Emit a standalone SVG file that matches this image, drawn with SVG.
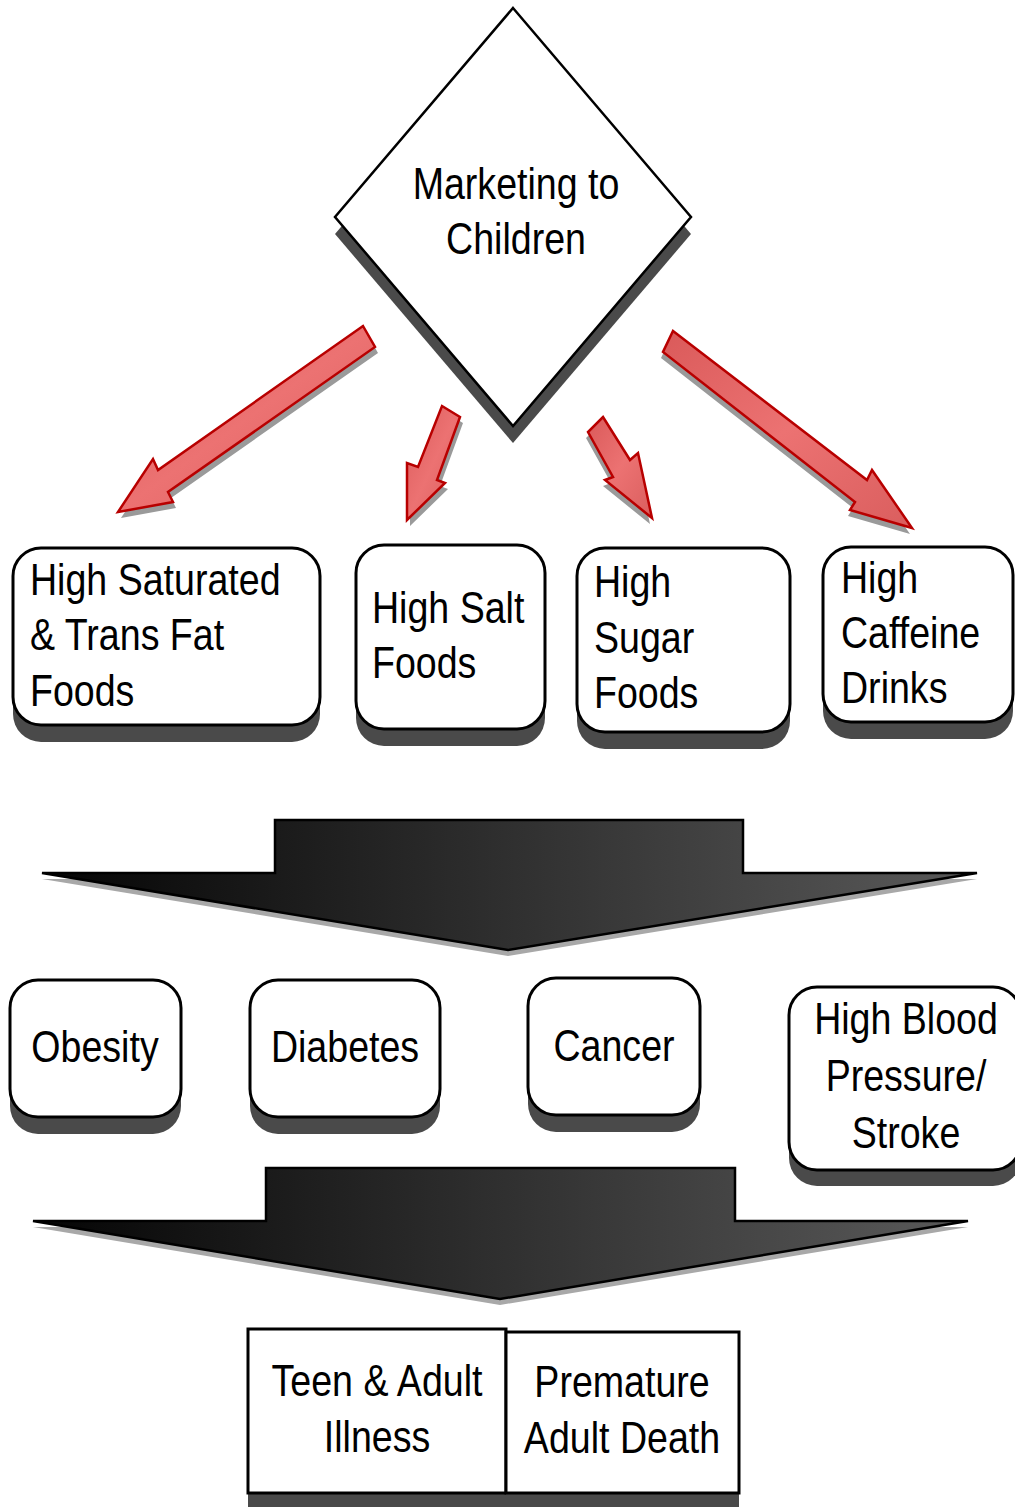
<svg xmlns="http://www.w3.org/2000/svg" width="1015" height="1507" viewBox="0 0 1015 1507">
<defs>
<style>
.t{font-family:"Liberation Sans",Arial,sans-serif;font-size:45px;fill:#000}
.m{text-anchor:middle}
.box{fill:#fff;stroke:#000;stroke-width:3}
.sh{fill:#4a4a4a}
.ra{fill:url(#redg);stroke:#b80000;stroke-width:2.5;stroke-linejoin:miter}
.rs{fill:#9a9a9a}
.ba{fill:url(#blkg);stroke:#000;stroke-width:2.5;stroke-linejoin:miter}
.bs{fill:#a8a8a8}
</style>
<linearGradient id="redg" x1="0" y1="0" x2="1" y2="1">
<stop offset="0" stop-color="#da5a5a"/>
<stop offset="0.5" stop-color="#ec7272"/>
<stop offset="1" stop-color="#da5e5e"/>
</linearGradient>
<linearGradient id="blkg" x1="0" y1="0" x2="1" y2="0">
<stop offset="0" stop-color="#050505"/>
<stop offset="1" stop-color="#5a5a5a"/>
</linearGradient>
</defs>
<rect width="1015" height="1507" fill="#fff"/>

<g id="connectors">
<g id="arrow-satfat">
<polygon class="rs" transform="translate(3 6)" points="363,326 375,347 168,492 173,502 118,512 153,459 158,470"/>
<polygon class="ra" points="363,326 375,347 168,492 173,502 118,512 153,459 158,470"/>
</g>
<g id="arrow-salt">
<polygon class="rs" transform="translate(3 6)" points="442,406 460,417 437,480 445,483 407,520 407,463 418,467"/>
<polygon class="ra" points="442,406 460,417 437,480 445,483 407,520 407,463 418,467"/>
</g>
<g id="arrow-sugar">
<polygon class="rs" transform="translate(-2 6)" points="603,417 630,460 638,453 652,518 605,480 613,477 588,432"/>
<polygon class="ra" points="603,417 630,460 638,453 652,518 605,480 613,477 588,432"/>
</g>
<g id="arrow-caffeine">
<polygon class="rs" transform="translate(-2 6)" points="673,331 867,480 872,470 912,528 850,510 855,502 663,352"/>
<polygon class="ra" points="673,331 867,480 872,470 912,528 850,510 855,502 663,352"/>
</g>
<g id="bigarrow-1">
<polygon class="bs" transform="translate(0 6)" points="42,873 275,873 275,820 743,820 743,873 977,873 508,950"/>
<polygon class="ba" points="42,873 275,873 275,820 743,820 743,873 977,873 508,950"/>
</g>
<g id="bigarrow-2">
<polygon class="bs" transform="translate(0 6)" points="33,1221 266,1221 266,1168 735,1168 735,1221 968,1221 500,1299"/>
<polygon class="ba" points="33,1221 266,1221 266,1168 735,1168 735,1221 968,1221 500,1299"/>
</g>
</g>

<g id="node-marketing">
<polygon class="sh" points="513,25 691,234 513,443 335,234"/>
<polygon fill="#fff" stroke="#000" stroke-width="2.5" points="513,8 691,217 513,426 335,217"/>
<text class="t m" transform="translate(516 199) scale(0.835 1)">Marketing to</text>
<text class="t m" transform="translate(516 254) scale(0.835 1)">Children</text>
</g>

<g id="node-satfat">
<rect class="sh" x="13" y="565" width="307" height="177" rx="28"/>
<rect class="box" x="13" y="548" width="307" height="177" rx="28"/>
<text class="t" transform="translate(30 595) scale(0.835 1)">High Saturated</text>
<text class="t" transform="translate(30 650) scale(0.835 1)">&amp; Trans Fat</text>
<text class="t" transform="translate(30 706) scale(0.835 1)">Foods</text>
</g>

<g id="node-salt">
<rect class="sh" x="356" y="562" width="189" height="184" rx="28"/>
<rect class="box" x="356" y="545" width="189" height="184" rx="28"/>
<text class="t" transform="translate(372 623) scale(0.835 1)">High Salt</text>
<text class="t" transform="translate(372 678) scale(0.835 1)">Foods</text>
</g>

<g id="node-sugar">
<rect class="sh" x="577" y="565" width="213" height="184" rx="28"/>
<rect class="box" x="577" y="548" width="213" height="184" rx="28"/>
<text class="t" transform="translate(594 597) scale(0.835 1)">High</text>
<text class="t" transform="translate(594 653) scale(0.835 1)">Sugar</text>
<text class="t" transform="translate(594 708) scale(0.835 1)">Foods</text>
</g>

<g id="node-caffeine">
<rect class="sh" x="823" y="564" width="190" height="175" rx="28"/>
<rect class="box" x="823" y="547" width="190" height="175" rx="28"/>
<text class="t" transform="translate(841 593) scale(0.835 1)">High</text>
<text class="t" transform="translate(841 648) scale(0.835 1)">Caffeine</text>
<text class="t" transform="translate(841 703) scale(0.835 1)">Drinks</text>
</g>

<g id="node-obesity">
<rect class="sh" x="10" y="997" width="171" height="137" rx="28"/>
<rect class="box" x="10" y="980" width="171" height="137" rx="28"/>
<text class="t m" transform="translate(95 1062) scale(0.835 1)">Obesity</text>
</g>

<g id="node-diabetes">
<rect class="sh" x="250" y="997" width="190" height="137" rx="28"/>
<rect class="box" x="250" y="980" width="190" height="137" rx="28"/>
<text class="t m" transform="translate(345 1062) scale(0.835 1)">Diabetes</text>
</g>

<g id="node-cancer">
<rect class="sh" x="528" y="995" width="172" height="137" rx="28"/>
<rect class="box" x="528" y="978" width="172" height="137" rx="28"/>
<text class="t m" transform="translate(614 1061) scale(0.835 1)">Cancer</text>
</g>

<g id="node-bloodpressure">
<rect class="sh" x="789" y="1003" width="232" height="183" rx="28"/>
<rect class="box" x="789" y="987" width="232" height="183" rx="28"/>
<text class="t m" transform="translate(906 1034) scale(0.835 1)">High Blood</text>
<text class="t m" transform="translate(906 1091) scale(0.835 1)">Pressure/</text>
<text class="t m" transform="translate(906 1148) scale(0.835 1)">Stroke</text>
</g>

<g id="node-illness">
<rect class="sh" x="248" y="1493" width="258" height="20"/>
<rect class="box" x="248" y="1329" width="258" height="164"/>
<text class="t m" transform="translate(377 1396) scale(0.835 1)">Teen &amp; Adult</text>
<text class="t m" transform="translate(377 1452) scale(0.835 1)">Illness</text>
</g>

<g id="node-death">
<rect class="sh" x="506" y="1493" width="233" height="20"/>
<rect class="box" x="506" y="1332" width="233" height="161"/>
<text class="t m" transform="translate(622 1397) scale(0.835 1)">Premature</text>
<text class="t m" transform="translate(622 1453) scale(0.835 1)">Adult Death</text>
</g>
</svg>
